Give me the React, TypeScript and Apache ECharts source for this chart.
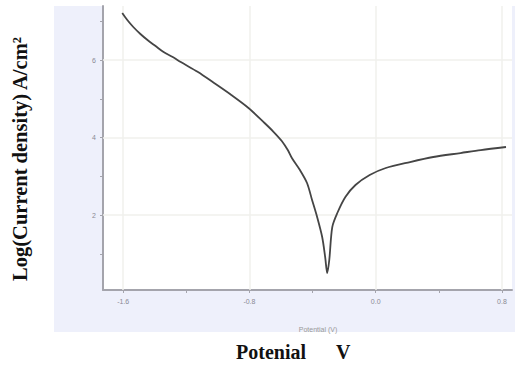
import React, { useEffect, useRef } from "react";
import * as echarts from "echarts";

const potential = [-1.606, -1.574, -1.536, -1.491, -1.446, -1.395, -1.344, -1.286, -1.235, -1.126, -1.024, -0.915, -0.806, -0.704, -0.646, -0.595, -0.557, -0.531, -0.48, -0.435, -0.403, -0.371, -0.339, -0.32, -0.307, -0.294, -0.275, -0.243, -0.192, -0.128, -0.038, 0.064, 0.218, 0.365, 0.538, 0.666, 0.826];
const logCurrent = [7.213, 7.032, 6.852, 6.671, 6.516, 6.361, 6.206, 6.077, 5.948, 5.69, 5.406, 5.097, 4.761, 4.374, 4.142, 3.91, 3.677, 3.471, 3.161, 2.826, 2.387, 1.948, 1.432, 0.916, 0.503, 0.839, 1.69, 2.052, 2.465, 2.774, 3.032, 3.213, 3.368, 3.497, 3.6, 3.677, 3.755];
const xLabels = [-1.6, -0.8, 0.0, 0.8];
const xTicks = [-1.6, -1.2, -0.8, -0.4, 0.0, 0.4, 0.8];
const yLabels = [2, 4, 6];
const yTicks = [1, 2, 3, 4, 5, 6, 7];

export default function App() {
  const ref = useRef<HTMLDivElement>(null);
  useEffect(() => {
    document.body.style.margin = "0";
    const chart = echarts.init(ref.current!, null, { renderer: "svg" });
    const data = potential.map((v, i) => [v, logCurrent[i]]);
    const gridColor = "#f1f1ec";
    chart.setOption({
      animation: false,
      backgroundColor: "#ffffff",
      grid: { left: 103, right: 3, top: 6, bottom: 80, show: true, backgroundColor: "#ffffff", borderWidth: 0 },
      graphic: [
        { type: "rect", z: -10, shape: { x: 54, y: 6, width: 461, height: 326 }, style: { fill: "#eef0fb" } },
        { type: "text", x: 236, y: 362, style: { text: "Potenial", font: "bold 20px 'Liberation Serif', serif", fill: "#111", textVerticalAlign: "bottom" } },
        { type: "text", x: 336, y: 362, style: { text: "V", font: "bold 20px 'Liberation Serif', serif", fill: "#111", textVerticalAlign: "bottom" } },
        { type: "text", x: 20, y: 159, rotation: Math.PI / 2, style: { text: "Log(Current density) A/cm²", font: "bold 20.5px 'Liberation Serif', serif", fill: "#111", textAlign: "center", textVerticalAlign: "middle" } },
        { type: "text", x: 318, y: 329, style: { text: "Potential (V)", font: "7px sans-serif", fill: "#999", textAlign: "center", textVerticalAlign: "middle" } },
      ],
      xAxis: {
        type: "value",
        min: -1.728,
        max: 0.864,
        axisLine: { show: true, onZero: false, lineStyle: { color: "#a4a4ac", width: 2 } },
        axisTick: { show: true, customValues: xTicks, length: 3, lineStyle: { color: "#a4a4ac" } },
        axisLabel: { customValues: xLabels, fontSize: 7, color: "#8a8a94", margin: 8, formatter: (v: number) => v.toFixed(1) },
        splitLine: { show: false },
      },
      yAxis: {
        type: "value",
        min: 0.065,
        max: 7.394,
        axisLine: { show: true, onZero: false, lineStyle: { color: "#a4a4ac", width: 2 } },
        axisTick: { show: true, customValues: yTicks, length: 3, lineStyle: { color: "#a4a4ac" } },
        axisLabel: { customValues: yLabels, fontSize: 7, color: "#8a8a94", margin: 7 },
        splitLine: { show: false },
      },
      series: [
        {
          type: "line",
          data: [],
          z: 1,
          silent: true,
          markLine: {
            silent: true,
            symbol: "none",
            label: { show: false },
            lineStyle: { color: gridColor, width: 1.5, type: "solid" },
            data: [
              ...xLabels.map((v) => ({ xAxis: v })),
              ...yLabels.map((v) => ({ yAxis: v })),
            ],
          },
        },
        {
          type: "line",
          data,
          z: 5,
          showSymbol: false,
          smooth: 0.3,
          lineStyle: { color: "#454545", width: 1.8 },
        },
      ],
    });
    return () => chart.dispose();
  }, []);
  return <div ref={ref} style={{ width: 515, height: 370 }} />;
}
